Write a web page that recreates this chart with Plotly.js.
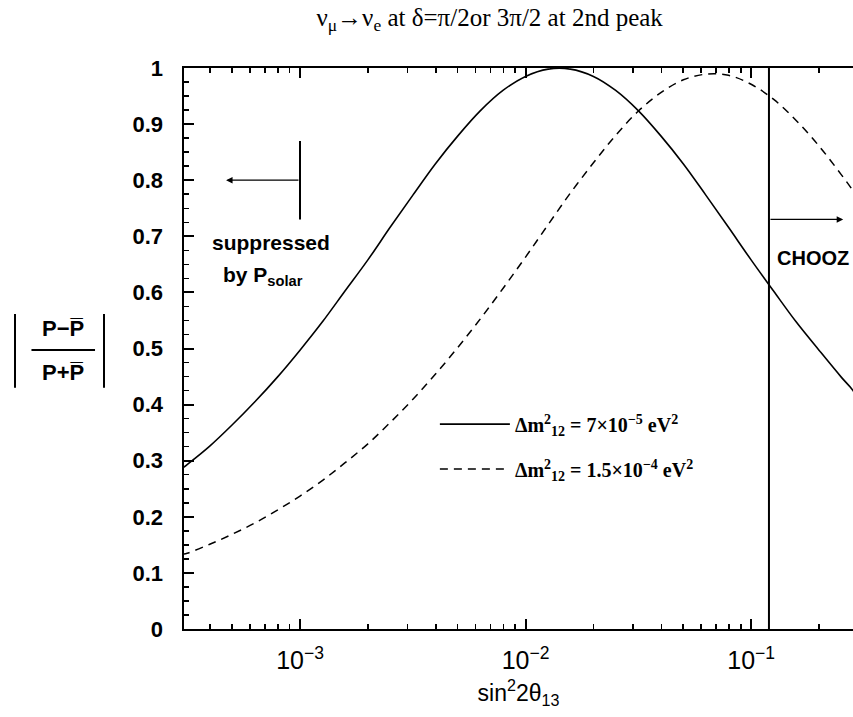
<!DOCTYPE html>
<html>
<head>
<meta charset="utf-8">
<script src="https://cdn.plot.ly/plotly-3.0.1.min.js"></script>
<style>html,body{margin:0;padding:0;background:#fff;overflow:hidden}</style>
</head>
<body>
<div id="chart" style="width:853px;height:717px"></div>
<script>
// sin^2 2theta13 sample positions
const sin2theta = [3.0e-4, 3.16e-4, 3.98e-4, 5.01e-4, 6.31e-4, 7.94e-4, 1.0e-3, 1.26e-3, 1.58e-3, 2.0e-3, 2.51e-3,
  3.16e-3, 3.98e-3, 5.01e-3, 6.31e-3, 7.94e-3, 0.01, 0.0126, 0.0158, 0.02, 0.0251,
  0.0316, 0.0398, 0.0501, 0.0631, 0.0794, 0.1, 0.126, 0.158, 0.2, 0.251, 0.282, 0.3];
// |P - Pbar| / (P + Pbar), dm12^2 = 7e-5 eV^2 (solid)
const asymSolid = [0.286, 0.293, 0.326, 0.364, 0.405, 0.449, 0.497, 0.548, 0.602, 0.658, 0.716,
  0.773, 0.829, 0.879, 0.924, 0.960, 0.985, 0.998, 0.998, 0.985, 0.960,
  0.924, 0.879, 0.829, 0.773, 0.716, 0.658, 0.602, 0.548, 0.497, 0.449, 0.426, 0.408];
// dm12^2 = 1.5e-4 eV^2 (dashed)
const asymDashed = [0.133, 0.135, 0.151, 0.169, 0.189, 0.212, 0.237, 0.265, 0.296, 0.330, 0.368,
  0.409, 0.454, 0.502, 0.553, 0.607, 0.663, 0.721, 0.777, 0.831, 0.880,
  0.923, 0.956, 0.979, 0.989, 0.987, 0.971, 0.944, 0.907, 0.861, 0.810, 0.782, 0.765];
const legendNames = [
  "Δm<sup>2</sup><sub>12</sub> = 7×10<sup>−5</sup> eV<sup>2</sup>",
  "Δm<sup>2</sup><sub>12</sub> = 1.5×10<sup>−4</sup> eV<sup>2</sup>"
];
const xTickVals = [1e-3, 1e-2, 1e-1];
const xTickText = ['10<sup>−3</sup>', '10<sup>−2</sup>', '10<sup>−1</sup>'];
// reference markers
const choozLimit = 0.12;      // CHOOZ bound on sin^2 2theta13
const choozArrowTo = 0.256;
const choozArrowY = 0.73;
const solarLimit = 1.0e-3;    // suppressed-by-Psolar boundary
const solarBarY = [0.73, 0.87];
const solarArrowY = 0.80;
const solarArrowTo = 4.7e-4;
const xRange = [3.06e-4, 0.283];

const L = Math.log10;
const minorVals = [];
for (let e = -4; e <= 0; e++) for (let m = 2; m <= 9; m++) minorVals.push(m * Math.pow(10, e));

const traces = [
  {x: sin2theta, y: asymSolid, type: 'scatter', mode: 'lines', name: legendNames[0], legendgroup: 'a',
   line: {color: '#000', width: 1.6, shape: 'spline', smoothing: 1}},
  {x: sin2theta, y: asymDashed, type: 'scatter', mode: 'lines', name: legendNames[1], legendgroup: 'b',
   line: {color: '#000', width: 1.5, dash: '8px,6px', shape: 'spline', smoothing: 1}}
];

const bold = {family: 'Liberation Sans, Arial, sans-serif', color: '#000', weight: 'bold'};
const layout = {
  width: 853, height: 717,
  margin: {l: 184, r: 0, t: 68, b: 88},
  paper_bgcolor: '#fff', plot_bgcolor: '#fff',
  title: {text: 'ν<sub>μ</sub>→ν<sub>e</sub> at δ=π/2or 3π/2 at 2nd peak',
    x: 0.574, xanchor: 'center', y: 0.988, yanchor: 'top',
    font: {family: 'Liberation Serif, Times New Roman, serif', size: 25, color: '#000'}},
  xaxis: {type: 'log', range: [L(xRange[0]), L(xRange[1])], tickmode: 'array', tickvals: xTickVals, ticktext: xTickText,
    ticks: 'inside', ticklen: 10, tickwidth: 2, tickcolor: '#000', ticklabelstandoff: 8,
    showline: true, linewidth: 2, linecolor: '#000', mirror: 'ticks', showgrid: false, zeroline: false,
    tickfont: {family: 'Liberation Sans, Arial, sans-serif', size: 25, color: '#000'},
    minor: {tickmode: 'array', tickvals: minorVals, ticks: 'inside', ticklen: 5, tickwidth: 1.5, tickcolor: '#000', showgrid: false},
    title: {text: 'sin<sup>2</sup>2θ<sub>13</sub>', standoff: 12,
      font: {family: 'Liberation Sans, Arial, sans-serif', size: 23, color: '#000'}}},
  yaxis: {range: [0, 1], dtick: 0.1, ticks: 'inside', ticklen: 10, tickwidth: 2, tickcolor: '#000',
    showline: true, linewidth: 2.5, linecolor: '#000', mirror: false, showgrid: false, zeroline: false,
    ticklabelstandoff: 14,
    tickfont: {family: 'Liberation Sans, Arial, sans-serif', size: 22, color: '#000', weight: 'bold'},
    minor: {dtick: 0.025, ticks: 'inside', ticklen: 5, tickwidth: 1.5, tickcolor: '#000', showgrid: false}},
  showlegend: true,
  legend: {x: 0.375, y: 0.4, xanchor: 'left', yanchor: 'top', bgcolor: 'rgba(0,0,0,0)',
    itemwidth: 70, tracegroupgap: 16,
    font: {family: 'Liberation Serif, Times New Roman, serif', size: 20, color: '#000', weight: 'bold'}},
  shapes: [
    {type: 'line', xref: 'x', yref: 'y', x0: choozLimit, x1: choozLimit, y0: 0, y1: 1,
     line: {color: '#000', width: 2}},
    {type: 'line', xref: 'x', yref: 'y', x0: solarLimit, x1: solarLimit, y0: solarBarY[0], y1: solarBarY[1],
     line: {color: '#000', width: 2}},
    // y-axis title: absolute value bars and fraction bar
    {type: 'line', xref: 'paper', yref: 'paper', x0: -0.2526, x1: -0.2526, y0: 0.43, y1: 0.5615,
     line: {color: '#000', width: 2}},
    {type: 'line', xref: 'paper', yref: 'paper', x0: -0.1196, x1: -0.1196, y0: 0.43, y1: 0.5615,
     line: {color: '#000', width: 2}},
    {type: 'line', xref: 'paper', yref: 'paper', x0: -0.228, x1: -0.133, y0: 0.4973, y1: 0.4973,
     line: {color: '#000', width: 2}}
  ],
  annotations: [
    {xref: 'x', yref: 'y', x: L(solarArrowTo), y: solarArrowY, ax: L(solarLimit), ay: solarArrowY,
     axref: 'x', ayref: 'y', text: '', showarrow: true, arrowhead: 2, arrowsize: 1, arrowwidth: 1.3, arrowcolor: '#000'},
    {xref: 'x', yref: 'y', x: L(choozArrowTo), y: choozArrowY, ax: L(choozLimit), ay: choozArrowY,
     axref: 'x', ayref: 'y', text: '', showarrow: true, arrowhead: 2, arrowsize: 1, arrowwidth: 1.3, arrowcolor: '#000'},
    {xref: 'paper', yref: 'paper', x: (271 - 184) / 669, y: (629 - 243) / 561, text: 'suppressed',
     showarrow: false, xanchor: 'center', yanchor: 'middle', font: Object.assign({size: 21}, bold)},
    {xref: 'paper', yref: 'paper', x: (263 - 184) / 669, y: (629 - 276) / 561, text: 'by P<sub>solar</sub>',
     showarrow: false, xanchor: 'center', yanchor: 'middle', font: Object.assign({size: 21}, bold)},
    {xref: 'paper', yref: 'paper', x: (775 - 184) / 669, y: (629 - 258) / 561, text: 'CHOOZ',
     showarrow: false, xanchor: 'left', yanchor: 'middle', font: Object.assign({size: 20}, bold)},
    {xref: 'paper', yref: 'paper', x: -0.1809, y: 0.535, text: 'P−P\u0305',
     showarrow: false, xanchor: 'center', yanchor: 'middle', font: Object.assign({size: 22}, bold)},
    {xref: 'paper', yref: 'paper', x: -0.1809, y: 0.458, text: 'P+P\u0305',
     showarrow: false, xanchor: 'center', yanchor: 'middle', font: Object.assign({size: 22}, bold)}
  ]
};

Plotly.newPlot('chart', traces, layout, {displayModeBar: false, staticPlot: true});
</script>
</body>
</html>
